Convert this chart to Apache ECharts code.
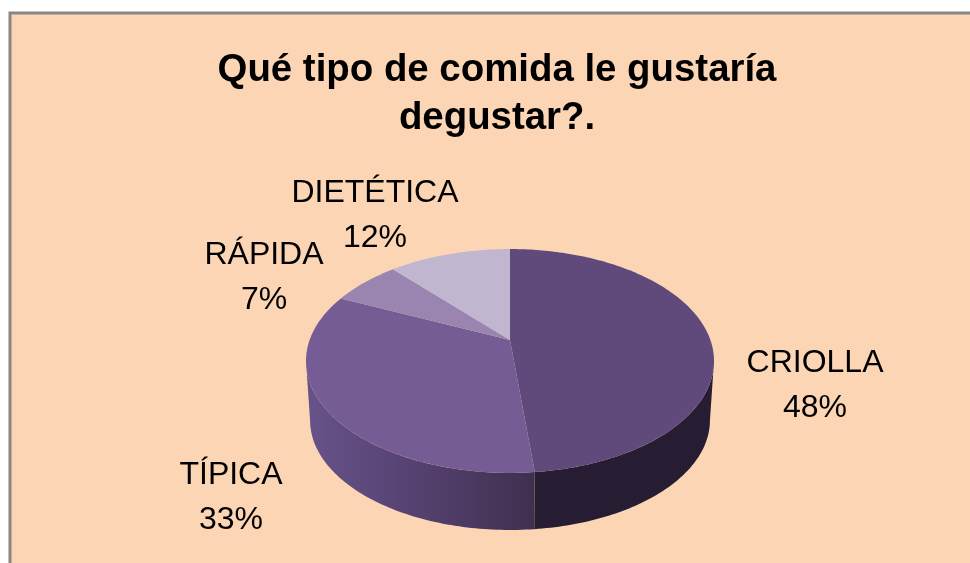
<!DOCTYPE html>
<html>
<head>
<meta charset="utf-8">
<style>html,body{margin:0;padding:0;background:#fff}#chart{width:970px;height:563px}</style>
<script src="https://cdn.jsdelivr.net/npm/echarts@6/dist/echarts.min.js"></script>
</head>
<body>
<div id="chart"></div>
<script>
// unrounded shares, labels round them
const categories = ['CRIOLLA', 'TÍPICA', 'RÁPIDA', 'DIETÉTICA'];
const values = [48.4, 33.4, 6.6, 11.6];
const topColors = ['#604A7B', '#755C94', '#9A85B0', '#C0B6D0'];
const labelPos = [[815, 386], [231, 498], [264, 278], [375, 216]];

const FONT = '"Liberation Sans", Arial, sans-serif';
// projection of the pie disc, apex is the projected centre
const APEX_X = 510, APEX_Y = 340, RX = 200.4, RY = 108, PERSP = 0.1875;
const BASE_SCALE = 0.98, DEPTH = 59.7;
// the outer wall is only visible between the two widest points of the disc
const WALL_FROM = 90 + Math.asin(PERSP) * 180 / Math.PI;
const WALL_TO = 360 - WALL_FROM;

function project(deg, scale, drop) {
  const a = deg * Math.PI / 180;
  const u = Math.sin(a), v = Math.cos(a);
  const d = 1 + PERSP * v;
  return [APEX_X + scale * RX * u / d, APEX_Y + drop - scale * RY * v / d];
}

function arc(from, to, scale, drop) {
  const pts = [];
  const n = Math.max(2, Math.ceil(to - from));
  for (let i = 0; i <= n; i++) pts.push(project(from + (to - from) * i / n, scale, drop));
  return pts;
}

const total = values.reduce((a, b) => a + b, 0);
const sideFill = [
  '#271D33',
  new echarts.graphic.LinearGradient(307, 0, 532, 0, [
    { offset: 0, color: '#67528A' },
    { offset: 0.5, color: '#54416F' },
    { offset: 1, color: '#3F304F' }
  ], true),
  '#5A4670',
  '#5A4670'
];

function renderSlice(params, api) {
  const i = params.dataIndex;
  const before = values.slice(0, i).reduce((a, b) => a + b, 0);
  const from = before / total * 360;
  const to = (before + api.value(0)) / total * 360;
  const topArc = arc(from, to, 1, 0);
  const children = [
    {
      type: 'polygon', z2: 2,
      shape: { points: [[APEX_X, APEX_Y]].concat(topArc) },
      style: { fill: topColors[i] }
    },
    {
      type: 'text', z2: 3, x: labelPos[i][0], y: labelPos[i][1],
      style: {
        text: categories[i] + '\n' + Math.round(api.value(0)) + '%',
        fill: '#000', font: '32px ' + FONT, lineHeight: 45,
        align: 'center', verticalAlign: 'middle'
      }
    }
  ];
  const wallFrom = Math.max(from, WALL_FROM), wallTo = Math.min(to, WALL_TO);
  if (wallTo > wallFrom) {
    children.push({
      type: 'polygon', z2: 1,
      shape: { points: arc(wallFrom, wallTo, 1, 0).concat(arc(wallFrom, wallTo, BASE_SCALE, DEPTH).reverse()) },
      style: { fill: sideFill[i] }
    });
  }
  return { type: 'group', children };
}

const chart = echarts.init(document.getElementById('chart'), null, { renderer: 'canvas' });
chart.setOption({
  animation: false,
  backgroundColor: '#fff',
  title: {
    text: 'Qué tipo de comida le gustaría\ndegustar?.',
    left: 492, top: 41, textAlign: 'center',
    textStyle: { color: '#000', fontFamily: FONT, fontWeight: 'bold', fontSize: 38.4, lineHeight: 48 }
  },
  graphic: [{
    type: 'rect', z: -10, silent: true,
    shape: { x: 10, y: 13, width: 1000, height: 600 },
    style: { fill: '#FCD5B5', stroke: '#868686', lineWidth: 3 }
  }],
  series: [{
    type: 'custom',
    coordinateSystem: 'none',
    silent: true,
    data: values.map((v, i) => ({ name: categories[i], value: [v] })),
    renderItem: renderSlice
  }]
});
</script>
</body>
</html>
